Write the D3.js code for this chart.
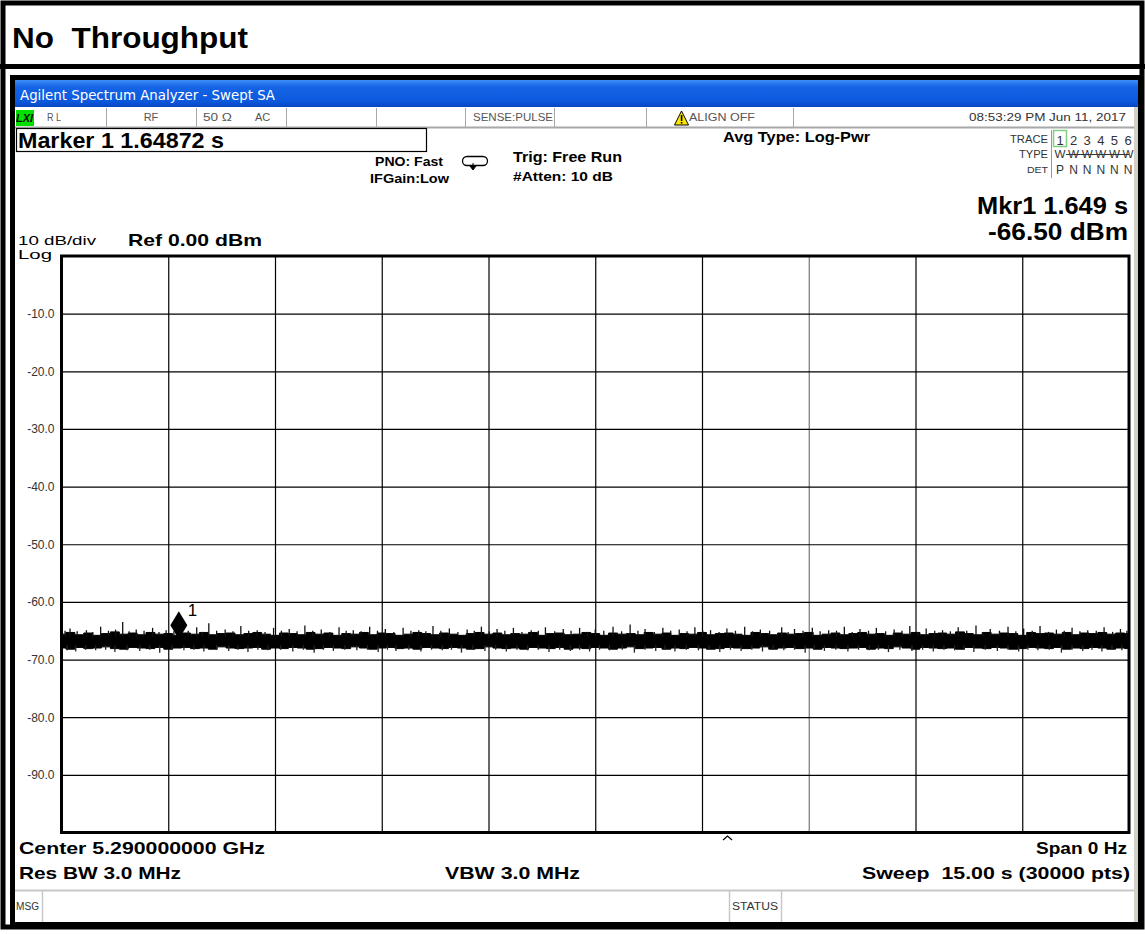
<!DOCTYPE html>
<html>
<head>
<meta charset="utf-8">
<script src="https://cdn.jsdelivr.net/npm/d3@7"></script>
<style>
body { margin: 0; background: #fff; }
svg { display: block; }
</style>
</head>
<body>
<div id="chart"></div>
<script>
// screen values
var sweepTime = 15;            // seconds, span 0 Hz
var levelTicks = [-10, -20, -30, -40, -50, -60, -70, -80, -90];
var timeTicks = [1.5, 3, 4.5, 6, 7.5, 9, 10.5, 12, 13.5];
var traceNumbers = ["1", "2", "3", "4", "5", "6"];
var detTypes = ["P", "N", "N", "N", "N", "N"];
var marker = [1.64872, -66.50];

// noise floor, upper and lower edge of the dense band (dBm), evenly spread over the sweep
var bandTop = [
    -65.6,-65.3,-65.7,-65.4,-65.8,-65.5,-65.2,-65.6,-65.4,-65.7,
    -65.3,-65.6,-65.5,-65.8,-65.4,-65.6,-65.3,-65.7,-65.5,-65.4,
    -65.7,-65.5,-65.3,-65.6,-65.8,-65.4,-65.5,-65.7,-65.3,-65.6,
    -65.4,-65.8,-65.5,-65.6,-65.3,-65.7,-65.4,-65.5,-65.8,-65.6,
    -65.3,-65.5,-65.7,-65.4,-65.6,-65.8,-65.5,-65.3,-65.6,-65.4,
    -65.7,-65.5,-65.6,-65.3,-65.8,-65.5,-65.4,-65.7,-65.6,-65.3,
    -65.5,-65.8,-65.4,-65.6,-65.5,-65.7,-65.3,-65.6,-65.4,-65.8,
    -65.5,-65.6,-65.3,-65.7,-65.5,-65.4,-65.6,-65.8,-65.3,-65.5,
    -65.7,-65.4,-65.6,-65.5,-65.3,-65.8,-65.6,-65.4,-65.7,-65.5,
    -65.3,-65.6,-65.5,-65.8,-65.4,-65.6,-65.3,-65.7,-65.5,-65.4,
    -65.6,-65.2,-65.5,-65.7,-65.3,-65.6,-65.4,-65.5,-65.8,-65.3,
    -65.5,-65.4,-65.6,-65.3,-65.7,-65.4,-65.5,-65.3,-65.6,-65.4,
    -65.5
];
var bandBottom = [
    -68.0,-68.2,-67.9,-68.1,-68.0,-67.8,-68.1,-68.2,-67.9,-68.0,
    -68.1,-67.9,-68.2,-68.0,-67.9,-68.1,-68.0,-68.2,-67.8,-68.0,
    -68.1,-68.0,-67.9,-68.2,-68.0,-68.1,-67.9,-68.0,-68.2,-68.1,
    -67.9,-68.0,-68.1,-67.8,-68.0,-68.2,-68.0,-67.9,-68.1,-68.0,
    -68.2,-67.9,-68.0,-68.1,-67.9,-68.0,-68.2,-68.1,-67.8,-68.0,
    -68.1,-68.0,-68.2,-67.9,-68.0,-68.1,-67.9,-68.2,-68.0,-68.1,
    -67.9,-68.0,-68.2,-68.0,-67.8,-68.1,-68.0,-67.9,-68.2,-68.0,
    -68.1,-67.9,-68.0,-68.2,-68.1,-67.9,-68.0,-68.1,-68.0,-67.8,
    -68.2,-68.0,-67.9,-68.1,-68.0,-68.2,-67.9,-68.0,-68.1,-68.0,
    -67.9,-68.2,-68.0,-68.1,-67.8,-68.0,-68.2,-67.9,-68.0,-68.1,
    -68.0,-68.2,-67.9,-68.0,-68.1,-67.9,-68.0,-68.2,-68.1,-67.9,
    -68.0,-68.1,-67.9,-68.2,-68.0,-68.1,-67.9,-68.0,-68.2,-68.0,
    -68.1
];

// single peaks sticking out of the band: [time s, level dBm]
var spikesUp = [
    [0.05,-65.0],[0.12,-64.6],[0.22,-65.1],[0.35,-64.9],[0.44,-65.2],[0.55,-64.3],[0.66,-65.0],
    [0.76,-64.8],[0.86,-63.5],[0.95,-65.1],[1.05,-64.8],[1.16,-65.0],[1.28,-64.5],[1.37,-65.2],
    [1.47,-64.9],[1.58,-65.1],[1.78,-65.0],[1.9,-64.4],[1.98,-65.2],[2.07,-63.7],[2.18,-65.0],
    [2.3,-64.8],[2.41,-65.1],[2.52,-64.2],[2.63,-65.0],[2.75,-64.9],[2.86,-65.2],[2.98,-64.5],
    [3.09,-65.0],[3.2,-64.7],[3.31,-65.1],[3.42,-64.1],[3.53,-65.0],[3.65,-64.8],[3.77,-65.2],
    [3.9,-64.4],[4.0,-65.0],[4.1,-64.9],[4.21,-65.1],[4.33,-64.3],[4.44,-65.0],[4.55,-64.7],
    [4.67,-65.2],[4.8,-64.5],[4.91,-65.0],[5.02,-64.9],[5.12,-65.1],[5.22,-64.2],[5.33,-65.0],
    [5.45,-64.6],[5.57,-65.2],[5.7,-64.8],[5.8,-65.0],[5.9,-64.3],[6.01,-65.1],[6.12,-64.7],
    [6.23,-65.0],[6.35,-64.5],[6.47,-65.2],[6.6,-64.9],[6.7,-65.0],[6.8,-64.4],[6.93,-65.1],
    [7.05,-64.7],[7.16,-65.0],[7.28,-64.5],[7.39,-65.2],[7.5,-64.8],[7.62,-65.0],[7.75,-64.3],
    [7.87,-65.1],[7.99,-63.9],[8.1,-65.0],[8.2,-64.7],[8.33,-65.2],[8.45,-64.5],[8.56,-65.0],
    [8.68,-64.8],[8.79,-65.1],[8.9,-64.4],[9.01,-65.0],[9.12,-64.9],[9.24,-65.2],[9.35,-64.6],
    [9.47,-65.0],[9.6,-64.3],[9.71,-65.1],[9.82,-64.8],[9.95,-65.0],[10.12,-64.4],[10.21,-65.2],
    [10.3,-64.7],[10.42,-65.0],[10.55,-64.5],[10.66,-65.1],[10.78,-64.9],[10.89,-65.0],[11.0,-64.3],
    [11.11,-65.2],[11.22,-64.7],[11.34,-65.0],[11.45,-64.5],[11.58,-65.1],[11.7,-64.8],[11.81,-65.0],
    [11.92,-64.2],[12.03,-65.2],[12.15,-64.6],[12.27,-65.0],[12.38,-64.9],[12.49,-65.1],[12.6,-64.4],
    [12.72,-65.0],[12.85,-64.1],[12.95,-65.2],[13.05,-64.7],[13.18,-65.0],[13.3,-64.3],[13.41,-65.1],
    [13.52,-64.6],[13.64,-65.0],[13.75,-64.2],[13.87,-65.2],[13.98,-64.8],[14.09,-65.0],[14.2,-64.5],
    [14.31,-65.1],[14.42,-64.9],[14.54,-65.0],[14.65,-64.4],[14.77,-65.2],[14.88,-64.7],[14.97,-65.0]
];
var spikesDown = [
    [0.08,-68.4],[0.2,-68.6],[0.34,-68.3],[0.48,-68.4],[0.62,-68.3],[0.75,-68.7],[0.92,-68.4],
    [1.1,-68.5],[1.24,-68.3],[1.38,-68.8],[1.55,-68.3],[1.72,-68.4],[1.86,-68.3],[2.0,-68.6],
    [2.18,-68.3],[2.35,-68.5],[2.48,-68.3],[2.62,-68.7],[2.76,-68.3],[2.9,-68.4],[3.08,-68.3],
    [3.25,-68.6],[3.4,-68.3],[3.55,-68.8],[3.68,-68.3],[3.82,-68.5],[3.98,-68.3],[4.15,-68.4],
    [4.3,-68.3],[4.45,-68.7],[4.58,-68.3],[4.7,-68.5],[4.88,-68.3],[5.05,-68.6],[5.2,-68.3],
    [5.35,-68.4],[5.48,-68.3],[5.62,-68.8],[5.78,-68.3],[5.95,-68.5],[6.1,-68.3],[6.25,-68.6],
    [6.4,-68.3],[6.55,-68.4],[6.7,-68.3],[6.85,-68.7],[7.0,-68.3],[7.15,-68.5],[7.28,-68.3],
    [7.42,-68.6],[7.56,-68.3],[7.7,-68.4],[7.88,-68.3],[8.05,-68.8],[8.2,-68.3],[8.35,-68.5],
    [8.48,-68.3],[8.62,-68.6],[8.78,-68.3],[8.95,-68.4],[9.1,-68.3],[9.25,-68.7],[9.4,-68.3],
    [9.55,-68.5],[9.7,-68.3],[9.85,-68.6],[10.0,-68.3],[10.15,-68.4],[10.3,-68.3],[10.45,-68.8],
    [10.58,-68.3],[10.72,-68.5],[10.88,-68.3],[11.05,-68.6],[11.2,-68.3],[11.35,-68.4],[11.48,-68.3],
    [11.62,-68.7],[11.78,-68.3],[11.95,-68.5],[12.1,-68.3],[12.25,-68.6],[12.4,-68.3],[12.55,-68.4],
    [12.68,-68.3],[12.82,-68.7],[12.98,-68.3],[13.15,-68.5],[13.3,-68.3],[13.45,-68.6],[13.58,-68.3],
    [13.72,-68.4],[13.88,-68.3],[14.05,-68.8],[14.2,-68.3],[14.35,-68.5],[14.48,-68.3],[14.62,-68.6],
    [14.76,-68.3],[14.9,-68.4]
];

var drawScreen = (function() {

    var FONT = "'Liberation Sans', Arial, sans-serif";

//write one label, len stretches it to the width seen on the screen
    function txt(g, x, y, s, o) {
        o = o || {};
        var t = g.append("text")
            .attr("x", x)
            .attr("y", y)
            .attr("dy", "0.35em")
            .style("font-family", o.family || FONT)
            .style("font-size", (o.size || 12) + "px")
            .style("font-weight", o.weight || "normal")
            .style("fill", o.fill || "#000")
            .style("white-space", "pre")
            .attr("text-anchor", o.anchor || "start")
            .text(s);
        if (o.len) {
            t.attr("textLength", o.len).attr("lengthAdjust", "spacingAndGlyphs");
        }
        if (o.italic) t.style("font-style", "italic");
        return t;
    }

//paper frame and the title box
    function frame(svg) {
        svg.append("rect")
            .attr("width", 1145).attr("height", 934)
            .style("fill", "#fff");

        txt(svg, 12, 38, "No  Throughput", {size: 29, weight: "bold", len: 236});

        svg.append("line")
            .attr("x1", 0).attr("x2", 1145)
            .attr("y1", 66.5).attr("y2", 66.5)
            .style("stroke", "#000").style("stroke-width", 5);

    //screenshot border
        svg.append("rect")
            .attr("x", 12.5).attr("y", 77.5)
            .attr("width", 1127).attr("height", 847)
            .style("fill", "none")
            .style("stroke", "#000").style("stroke-width", 5);

        svg.append("rect")
            .attr("x", 3).attr("y", 3)
            .attr("width", 1139).attr("height", 924)
            .style("fill", "none")
            .style("stroke", "#000").style("stroke-width", 5);
    }

//blue window caption and the grey status line under it
    function titleBar(svg) {
        var grad = svg.append("defs").append("linearGradient")
            .attr("id", "xpBlue")
            .attr("x1", 0).attr("x2", 0).attr("y1", 0).attr("y2", 1);
        grad.append("stop").attr("offset", "0%").attr("stop-color", "#3d8ef8");
        grad.append("stop").attr("offset", "25%").attr("stop-color", "#1565e6");
        grad.append("stop").attr("offset", "80%").attr("stop-color", "#0b58dc");
        grad.append("stop").attr("offset", "100%").attr("stop-color", "#0846c0");

        svg.append("rect")
            .attr("x", 15).attr("y", 80)
            .attr("width", 1123).attr("height", 27)
            .style("fill", "url(#xpBlue)");

        txt(svg, 20, 95, "Agilent Spectrum Analyzer - Swept SA",
            {size: 14, fill: "#fff", family: "'DejaVu Sans', sans-serif", len: 255});

    //right hand grey strip of the window
        svg.append("rect")
            .attr("x", 1134).attr("y", 107)
            .attr("width", 4).attr("height", 815)
            .style("fill", "#d4d0c8");

        var row = svg.append("g");
        row.append("line")
            .attr("x1", 15).attr("x2", 1134)
            .attr("y1", 127.5).attr("y2", 127.5)
            .style("stroke", "#a8a8a8").style("stroke-width", 2);

        [106, 196, 286, 376, 465, 554, 646, 793].forEach(function(x) {
            row.append("line")
                .attr("x1", x + 0.5).attr("x2", x + 0.5)
                .attr("y1", 108).attr("y2", 127)
                .style("stroke", "#a8a8a8");
        });

    //LXI badge
        row.append("rect")
            .attr("x", 16).attr("y", 110)
            .attr("width", 18).attr("height", 16)
            .style("fill", "#00e000");
        txt(row, 16, 118, "LXI", {size: 11, weight: "bold", italic: true, len: 17});

        var grey = {size: 11, fill: "#555"};
        txt(row, 47, 117, "R L", Object.assign({len: 14}, grey));
        txt(row, 151, 117, "RF", Object.assign({anchor: "middle"}, grey));
        txt(row, 203, 117, "50 Ω", Object.assign({len: 29}, grey));
        txt(row, 255, 117, "AC", grey);
        txt(row, 473, 117, "SENSE:PULSE", Object.assign({len: 80}, grey));

    //warning sign before ALIGN OFF
        row.append("path")
            .attr("d", "M681.5,111 L688.5,125 L674.5,125 Z")
            .style("fill", "#ffe600")
            .style("stroke", "#000").style("stroke-width", 1);
        row.append("rect")
            .attr("x", 680.8).attr("y", 115).attr("width", 1.6).attr("height", 6)
            .style("fill", "#000");
        row.append("rect")
            .attr("x", 680.8).attr("y", 122).attr("width", 1.6).attr("height", 1.6)
            .style("fill", "#000");
        txt(row, 689, 117, "ALIGN OFF", Object.assign({len: 66}, grey));

        txt(row, 1126, 117, "08:53:29 PM Jun 11, 2017",
            Object.assign({anchor: "end", len: 157}, grey, {fill: "#333"}));
    }

//settings block between status line and graticule
    function settings(svg) {
        var g = svg.append("g");

        g.append("rect")
            .attr("x", 16.5).attr("y", 128.5)
            .attr("width", 410).attr("height", 23)
            .style("fill", "#fff")
            .style("stroke", "#000").style("stroke-width", 1.2);
        txt(g, 18, 140, "Marker 1 1.64872 s", {size: 22, weight: "bold", len: 206});

        txt(g, 375, 162, "PNO: Fast", {size: 12, weight: "bold", len: 68});
        txt(g, 370, 179, "IFGain:Low", {size: 12, weight: "bold", len: 79});

    //free run icon
        g.append("rect")
            .attr("x", 462.5).attr("y", 156.5)
            .attr("width", 25).attr("height", 9).attr("rx", 4.5)
            .style("fill", "none")
            .style("stroke", "#000").style("stroke-width", 1.3);
        g.append("path")
            .attr("d", "M470,166 L476,166 L473,170 Z M473,163 L473,168")
            .style("fill", "#000")
            .style("stroke", "#000");

        txt(g, 513, 157, "Trig: Free Run", {size: 14, weight: "bold", len: 109});
        txt(g, 513, 176, "#Atten: 10 dB", {size: 13, weight: "bold", len: 100});

        txt(g, 723, 137, "Avg Type: Log-Pwr", {size: 14, weight: "bold", len: 147});

    //trace table
        var t = g.append("g");
        t.append("line")
            .attr("x1", 1051.5).attr("x2", 1051.5)
            .attr("y1", 130).attr("y2", 178)
            .style("stroke", "#999");
        t.append("rect")
            .attr("x", 1053.5).attr("y", 130.5)
            .attr("width", 13).attr("height", 16)
            .style("fill", "none")
            .style("stroke", "#7fd07f").style("stroke-width", 1.5);

        txt(t, 1048, 139, "TRACE", {size: 10, anchor: "end", fill: "#333", len: 38});
        txt(t, 1048, 154, "TYPE", {size: 10, anchor: "end", fill: "#333", len: 29});
        txt(t, 1048, 170, "DET", {size: 9, anchor: "end", fill: "#333", len: 21});

        traceNumbers.forEach(function(n, i) {
            txt(t, 1060 + i * 13.6, 140, n, {size: 13, anchor: "middle", fill: "#333"});
        });
        detTypes.forEach(function(n, i) {
            txt(t, 1060 + i * 13.6, 170, n, {size: 12, anchor: "middle", fill: "#333"});
        });
        traceNumbers.forEach(function(n, i) {
            txt(t, 1060 + i * 13.6, 154, "W", {size: 10, anchor: "middle", fill: "#333", len: 11});
        });
        t.append("line")
            .attr("x1", 1066).attr("x2", 1129)
            .attr("y1", 154.5).attr("y2", 154.5)
            .style("stroke", "#333");

    //marker readout
        txt(g, 1128, 206, "Mkr1 1.649 s", {size: 23, weight: "bold", anchor: "end", len: 151});
        txt(g, 1128, 232, "-66.50 dBm", {size: 23, weight: "bold", anchor: "end", len: 140});

        txt(g, 18, 240, "10 dB/div", {size: 13, len: 78});
        txt(g, 18, 254, "Log", {size: 13, len: 34});
        txt(g, 128, 240, "Ref 0.00 dBm", {size: 17, weight: "bold", len: 134});
    }

//graticule, noise floor and marker
    function graticule(svg) {
        var left = 61.5, right = 1129, top = 256, bottom = 832.5;

        var x = d3.scaleLinear().domain([0, sweepTime]).range([left, right]);
        var y = d3.scaleLinear().domain([-100, 0]).range([bottom, top]);

        var plot = svg.append("g");

    //grid
        plot.append("g")
            .attr("transform", "translate(0," + bottom + ")")
            .call(d3.axisBottom(x).tickValues(timeTicks).tickSize(-(bottom - top)).tickFormat(""))
            .call(function(a) { a.select(".domain").remove(); })
            .selectAll("line")
            .style("stroke", function(d) { return d === 10.5 ? "#777" : "#000"; })
            .style("stroke-width", 1.2);

        plot.append("g")
            .attr("transform", "translate(" + left + ",0)")
            .call(d3.axisLeft(y).tickValues(levelTicks).tickSize(-(right - left)).tickFormat(""))
            .call(function(a) { a.select(".domain").remove(); })
            .selectAll("line")
            .style("stroke", "#000")
            .style("stroke-width", 1.2);

    //level labels
        var yAxis = plot.append("g")
            .attr("transform", "translate(" + left + ",0)")
            .call(d3.axisLeft(y).tickValues(levelTicks).tickSize(0).tickPadding(7)
                .tickFormat(function(d) { return d.toFixed(1); }));
        yAxis.select(".domain").remove();
        yAxis.selectAll("text")
            .style("font-family", FONT)
            .style("font-size", "12px")
            .style("fill", "#333");

    //noise band
        var n = bandTop.length;
        var band = d3.area()
            .curve(d3.curveStep)
            .x(function(d, i) { return x(i * sweepTime / (n - 1)); })
            .y0(function(d, i) { return y(bandBottom[i]); })
            .y1(function(d) { return y(d); });

        plot.append("path")
            .datum(bandTop)
            .attr("d", band)
            .style("fill", "#000")
            .style("stroke", "#000")
            .style("stroke-width", 1);

        plot.selectAll(".up")
            .data(spikesUp)
            .enter().append("line")
            .attr("x1", function(d) { return x(d[0]); })
            .attr("x2", function(d) { return x(d[0]); })
            .attr("y1", y(-66))
            .attr("y2", function(d) { return y(d[1]); })
            .style("stroke", "#111")
            .style("stroke-width", 1.3);

        plot.selectAll(".down")
            .data(spikesDown)
            .enter().append("line")
            .attr("x1", function(d) { return x(d[0]); })
            .attr("x2", function(d) { return x(d[0]); })
            .attr("y1", y(-67.5))
            .attr("y2", function(d) { return y(d[1]); })
            .style("stroke", "#222")
            .style("stroke-width", 1.3);

    //marker diamond sitting on the trace
        var mx = x(marker[0]), my = y(marker[1]);
        plot.append("path")
            .attr("d", "M" + mx + "," + my + " l-8.5,-14 l8.5,-14 l8.5,14 Z")
            .style("fill", "#000");
        txt(plot, mx + 9, my - 29, "1", {size: 17});

    //graticule outline on top
        plot.append("rect")
            .attr("x", left).attr("y", top)
            .attr("width", right - left).attr("height", bottom - top)
            .style("fill", "none")
            .style("stroke", "#000").style("stroke-width", 3);

        plot.append("path")
            .attr("d", "M723,840 L727.5,836 L732,840")
            .style("fill", "none")
            .style("stroke", "#000").style("stroke-width", 1.3);
    }

//bottom annotations and message bar
    function footer(svg) {
        var g = svg.append("g");
        txt(g, 19, 848, "Center 5.290000000 GHz", {size: 17, weight: "bold", len: 246});
        txt(g, 1127, 848, "Span 0 Hz", {size: 17, weight: "bold", anchor: "end", len: 91});
        txt(g, 19, 873, "Res BW 3.0 MHz", {size: 17, weight: "bold", len: 162});
        txt(g, 445, 873, "VBW 3.0 MHz", {size: 17, weight: "bold", len: 135});
        txt(g, 1130, 873, "Sweep  15.00 s (30000 pts)", {size: 17, weight: "bold", anchor: "end", len: 268});

        g.append("line")
            .attr("x1", 15).attr("x2", 1134)
            .attr("y1", 890.5).attr("y2", 890.5)
            .style("stroke", "#c8c8c8").style("stroke-width", 2);
        [42, 729, 781].forEach(function(xx) {
            g.append("line")
                .attr("x1", xx + 0.5).attr("x2", xx + 0.5)
                .attr("y1", 891).attr("y2", 922)
                .style("stroke", "#c8c8c8").style("stroke-width", 1.5);
        });
        txt(g, 16, 906, "MSG", {size: 10, fill: "#333", len: 23});
        txt(g, 732, 906, "STATUS", {size: 10, fill: "#333", len: 46});
    }

    return {
        render: function(placement) {
            d3.select(placement).html("");
            var svg = d3.select(placement).append("svg")
                .attr("width", 1145)
                .attr("height", 934);

            frame(svg);
            titleBar(svg);
            settings(svg);
            graticule(svg);
            footer(svg);
        }
    };
})();

drawScreen.render("#chart");
</script>
</body>
</html>
